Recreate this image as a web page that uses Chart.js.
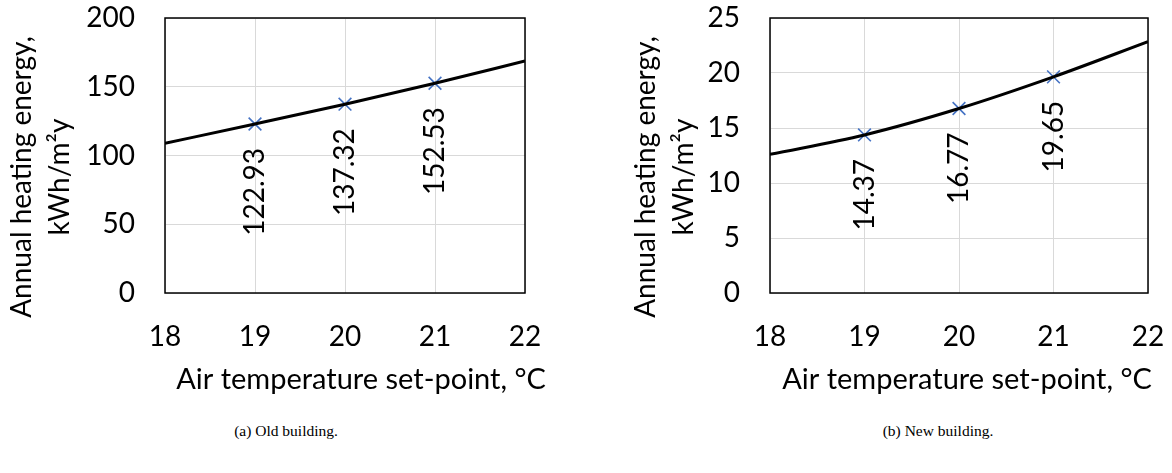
<!DOCTYPE html>
<html>
<head>
<meta charset="utf-8">
<script src="https://cdn.jsdelivr.net/npm/chart.js@4.4.1/dist/chart.umd.min.js"></script>
<style>
  body { margin: 0; background: #fff; width: 1172px; height: 473px; position: relative; overflow: hidden; }
  canvas { position: absolute; top: 0; }
  #c1 { left: 0; }
  #c2 { left: 586px; }
  .cap { position: absolute; top: 422px; font-family: "Liberation Serif", serif; font-size: 15.5px; color: #000; transform: translateX(-50%); white-space: nowrap; }
</style>
</head>
<body>
<canvas id="c1" width="586" height="410"></canvas>
<canvas id="c2" width="586" height="410"></canvas>
<div class="cap" style="left:286px">(a) Old building.</div>
<div class="cap" style="left:938px">(b) New building.</div>
<script>
// set-points (x axis)
const xTicks = [18, 19, 20, 21, 22];
const simX = [19, 20, 21];

// old building
const oldSim = [122.93, 137.32, 152.53];
const oldTrend = [108.9, 122.93, 137.32, 152.53, 168.7];

// new building
const newSim = [14.37, 16.77, 19.65];
const newTrend = [12.6, 14.37, 16.77, 19.65, 22.85];

const xTitle = 'Air temperature set-point, °C';
const yTitle = ['Annual heating energy,', 'kWh/m²y'];

const FONT = 'Lato';
const FS = 28;

// black box round the plot area
const boxPlugin = {
  id: 'plotBox',
  beforeDatasetsDraw(chart) {
    const a = chart.chartArea;
    const ctx = chart.ctx;
    ctx.save();
    ctx.strokeStyle = '#000';
    ctx.lineWidth = 1.5;
    ctx.strokeRect(a.left, a.top, a.right - a.left, a.bottom - a.top);
    ctx.restore();
  }
};

// rotated value labels under the markers
const labelPlugin = {
  id: 'valueLabels',
  afterDatasetsDraw(chart) {
    const ctx = chart.ctx;
    chart.data.datasets.forEach((ds, i) => {
      if (!ds.showValues) return;
      const meta = chart.getDatasetMeta(i);
      meta.data.forEach((pt, j) => {
        ctx.save();
        ctx.translate(pt.x, pt.y + 24);
        ctx.rotate(-Math.PI / 2);
        ctx.font = FS + 'px ' + FONT;
        ctx.fillStyle = '#000';
        ctx.textAlign = 'right';
        ctx.textBaseline = 'middle';
        ctx.fillText(ds.data[j].y.toFixed(2), 0, 0);
        ctx.restore();
      });
    });
  }
};

// axis titles (Excel places them a bit off the plot centre)
const titlePlugin = {
  id: 'axisTitles',
  afterDraw(chart, args, opts) {
    const ctx = chart.ctx;
    ctx.save();
    ctx.fillStyle = '#000';
    ctx.textAlign = 'center';
    ctx.textBaseline = 'middle';
    ctx.font = '29px ' + FONT;
    ctx.fillText(xTitle, opts.xTitleX, opts.xTitleY);
    ctx.font = FS + 'px ' + FONT;
    ctx.translate(opts.yTitleX, opts.yTitleY);
    ctx.rotate(-Math.PI / 2);
    yTitle.forEach((line, i) => ctx.fillText(line, 0, i * 38));
    ctx.restore();
  }
};

function makeChart(id, sim, trend, yMax, yStep, setup) {
  const ctx = document.getElementById(id).getContext('2d');
  return new Chart(ctx, {
    type: 'scatter',
    data: {
      datasets: [
        {
          label: 'trend',
          type: 'line',
          data: xTicks.map((x, i) => ({ x: x, y: trend[i] })),
          borderColor: '#000',
          borderWidth: 3,
          pointRadius: 0,
          cubicInterpolationMode: 'monotone',
          fill: false,
        },
        {
          label: 'simulated',
          data: simX.map((x, i) => ({ x: x, y: sim[i] })),
          pointStyle: 'crossRot',
          pointRadius: 9,
          borderColor: '#4472C4',
          backgroundColor: '#4472C4',
          pointBorderWidth: 1.6,
          showValues: true,
        },
      ],
    },
    options: {
      responsive: false,
      animation: false,
      devicePixelRatio: 1,
      layout: { padding: { top: 18, right: setup.padRight, left: 0, bottom: 0 } },
      plugins: {
        legend: { display: false },
        tooltip: { enabled: false },
        axisTitles: setup,
      },
      scales: {
        x: {
          type: 'linear',
          min: 18,
          max: 22,
          afterBuildTicks: (s) => { s.ticks = xTicks.map((v) => ({ value: v })); },
          grid: { color: '#d9d9d9', lineWidth: 1, drawTicks: false },
          border: { display: false },
          ticks: { color: '#000', font: { family: FONT, size: FS }, padding: 27 },
          afterFit: (s) => { s.height = 410 - 293; s.paddingLeft = 0; s.paddingRight = 0; },
        },
        y: {
          min: 0,
          max: yMax,
          ticks: { stepSize: yStep, color: '#000', font: { family: FONT, size: FS }, padding: 30 },
          grid: { color: '#d9d9d9', lineWidth: 1, drawTicks: false },
          border: { display: false },
          afterFit: (s) => { s.width = setup.plotLeft; s.paddingTop = 0; s.paddingBottom = 0; },
        },
      },
    },
    plugins: [boxPlugin, labelPlugin, titlePlugin],
  });
}

makeChart('c1', oldSim, oldTrend, 200, 50, {
  plotLeft: 165, padRight: 61,
  xTitleX: 361, xTitleY: 380,
  yTitleX: 22, yTitleY: 177,
});
makeChart('c2', newSim, newTrend, 25, 5, {
  plotLeft: 184, padRight: 24,
  xTitleX: 381, xTitleY: 380,
  yTitleX: 60, yTitleY: 177,
});
</script>
</body>
</html>
